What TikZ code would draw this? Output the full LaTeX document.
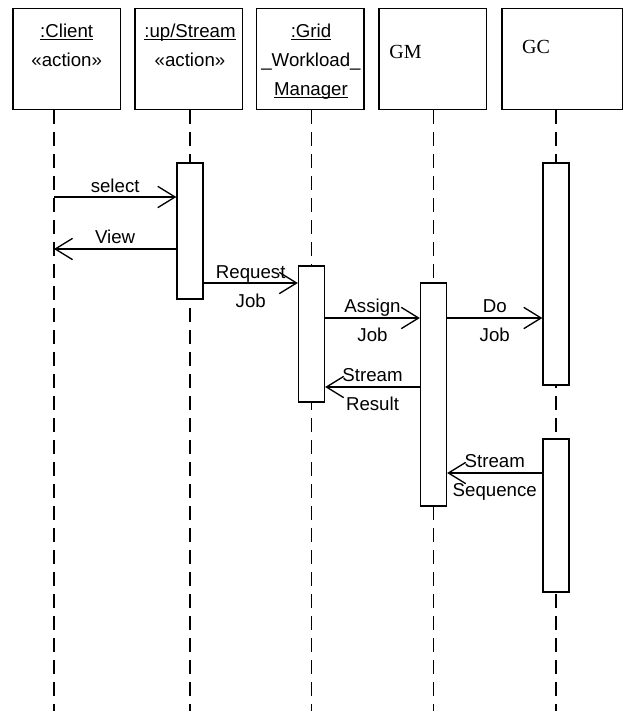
\documentclass[tikz,border=0pt]{standalone}
\usepackage{fontspec}
\setmainfont{Liberation Sans}
\newfontfamily\gmfont{Liberation Serif}
\usetikzlibrary{arrows.meta}

\begin{document}
\begin{tikzpicture}[
    x=0.75pt, y=-0.75pt,
    head/.style={rectangle, draw, line width=1pt, fill=white,
                 minimum width=80.5pt, minimum height=75.75pt, inner sep=0pt},
    htext/.style={font=\fontsize{14}{21.75}\selectfont, align=center,
                  inner sep=0pt, anchor=base},
    gtext/.style={font=\gmfont\fontsize{15}{18}\selectfont, inner sep=0pt, anchor=base},
    act/.style={rectangle, draw, line width=1pt, fill=white,
                minimum width=19.5pt, inner sep=0pt},
    life/.style={line width=1pt, dash pattern=on 10.5pt off 6pt},
    msg/.style={-{Straight Barb[length=13pt,width=16pt]}, line width=1pt},
    lbl/.style={font=\fontsize{14}{21.75}\selectfont, align=center,
                inner sep=0pt, anchor=base, yshift=4.5pt},
    lbl2/.style={lbl, yshift=-21.75pt}
  ]
    \useasboundingbox (0,0) rectangle (629,711);

    % participants
    \node[head] (cl) at (66.7,58.8) {};
    \node[head] (up) at (188.7,58.8) {};
    \node[head] (gw) at (310.3,58.8) {};
    \node[head] (gm) at (432.5,58.8) {};
    \node[head, minimum width=90.2pt] (gc) at (562.2,58.8) {};

    % last baseline of each head text
    \node[htext] (clT) at (66.7,66) {\underline{\smash{:Client}}\\«action»};
    \node[htext] (upT) at (190,66) {\underline{\smash{:up/Stream}}\\«action»};
    \node[htext] (gwT) at (311,95) {\underline{\smash{:Grid}}\\\_Workload\_\\\underline{\smash{Manager}}};
    \node[gtext] (gmT) at (405.5,58) {GM};
    \node[gtext] (gcT) at (536,53) {GC};

    % lifelines
    \coordinate (clE) at (54,711);
    \coordinate (upE) at (190,711);
    \coordinate (gwE) at (311.5,711);
    \coordinate (gmE) at (433.5,711);
    \coordinate (gcE) at (556,711);
    \draw[life] (cl.south -| clE) -- (clE);
    \draw[life] (up.south -| upE) -- (upE);
    \draw[life] (gw.south -| gwE) -- (gwE);
    \draw[life] (gm.south -| gmE) -- (gmE);
    \draw[life] (gc.south -| gcE) -- (gcE);

    % activations
    \node[act, minimum height=102pt] (up1) at (190,231) {};
    \node[act, minimum height=102pt] (gw1) at (311.5,334) {};
    \node[act, minimum height=167.25pt] (gm1) at (433.5,394.5) {};
    \node[act, minimum height=166.5pt] (gc1) at (556,274) {};
    \node[act, minimum height=114.75pt] (gc2) at (556,515.5) {};

    % messages
    \coordinate (ySel) at (0,197);
    \coordinate (yView) at (0,249);
    \coordinate (yReq) at (0,283);
    \coordinate (yAsg) at (0,318);
    \coordinate (yRes) at (0,387);
    \coordinate (ySeq) at (0,473);
    \draw[msg] (clE |- ySel) -- node[lbl, yshift=-0.75pt] {select} (up1.west |- ySel);
    \draw[msg] (up1.west |- yView) -- node[lbl] {View} (clE |- yView);
    \draw[msg] (up1.east |- yReq) -- node[lbl2, yshift=-0.75pt] {Request\\Job} (gw1.west |- yReq);
    \draw[msg] (gw1.east |- yAsg) -- node[lbl2] {Assign\\Job} (gm1.west |- yAsg);
    \draw[msg] (gm1.east |- yAsg) -- node[lbl2] {Do\\Job} (gc1.west |- yAsg);
    \draw[msg] (gm1.west |- yRes) -- node[lbl2] {Stream\\Result} (gw1.east |- yRes);
    \draw[msg] (gc2.west |- ySeq) -- node[lbl2] {Stream\\Sequence} (gm1.east |- ySeq);
\end{tikzpicture}
\end{document}
